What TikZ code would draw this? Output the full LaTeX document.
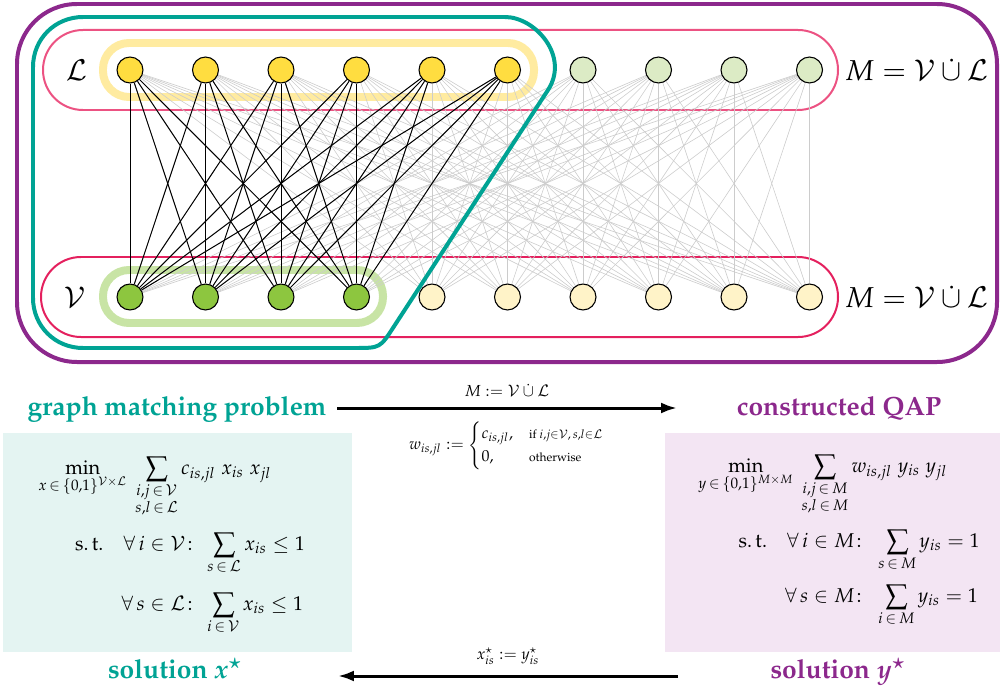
\documentclass[tikz,border=0pt]{standalone}
\usepackage[T1]{fontenc}
\usepackage{amsmath,amssymb}
\usepackage{mathpazo}
\usepackage{xcolor}
\usepackage{tikz}
\usetikzlibrary{positioning, arrows.meta, calc}

\definecolor{gmteal}{RGB}{0,163,148}
\definecolor{qappurple}{RGB}{140,40,140}
\definecolor{pinktop}{RGB}{236,82,130}
\definecolor{pinkbot}{RGB}{228,32,94}
\definecolor{lgold}{RGB}{255,221,64}
\definecolor{lgoldpale}{RGB}{255,243,200}
\definecolor{vgreen}{RGB}{141,198,63}
\definecolor{vgreenpale}{RGB}{220,235,197}
\definecolor{hlgold}{RGB}{255,235,160}
\definecolor{hlgreen}{RGB}{200,228,165}
\definecolor{gmbox}{RGB}{228,244,242}
\definecolor{qapbox}{RGB}{243,229,243}

\pgfdeclarelayer{frames}
\pgfdeclarelayer{edges}
\pgfsetlayers{frames,edges,main}

\newcommand{\dcup}{\mathbin{\dot{\cup}}}

\begin{document}
\begin{tikzpicture}[
    x=0.0176cm, y=-0.0176cm,
    vertex/.style={circle, draw, line width=0.55pt, minimum size=13pt, inner sep=0pt},
    gold/.style={vertex, fill=lgold},
    goldpale/.style={vertex, fill=lgoldpale},
    green/.style={vertex, fill=vgreen},
    greenpale/.style={vertex, fill=vgreenpale},
    faint/.style={gray!40, line width=0.3pt},
    strong/.style={black, line width=0.5pt},
    setlabel/.style={font=\Large},
    title/.style={font=\fontsize{13.2}{16}\selectfont\bfseries},
    mathtext/.style={inner sep=0pt},
    flow/.style={-{Latex[length=8pt, width=5.5pt]}, line width=1.5pt}
]
\useasboundingbox (0,0) rectangle (1000,697);

% Top row L (and M), bottom row V (and M)
\foreach \k in {0,...,5} \node[gold] (top_\k) at ({130+75.5*\k},70) {};
\foreach \k in {6,...,9} \node[greenpale] (top_\k) at ({130+75.5*\k},70) {};
\foreach \k in {0,...,3} \node[green] (bot_\k) at ({130+75.5*\k},297) {};
\foreach \k in {4,...,9} \node[goldpale] (bot_\k) at ({130+75.5*\k},297) {};

\node[setlabel] (lbl_L) at (77,70) {$\mathcal{L}$};
\node[setlabel] (lbl_V) at (75,297) {$\mathcal{V}$};
\node[setlabel] (lbl_Mtop) at (917,70) {$M = \mathcal{V} \dcup \mathcal{L}$};
\node[setlabel] (lbl_Mbot) at (917,297) {$M = \mathcal{V} \dcup \mathcal{L}$};

% Edges
\begin{pgfonlayer}{edges}
\foreach \a in {0,...,9}
  \foreach \b in {0,...,9}
    \draw[faint] (top_\a) -- (bot_\b);
\foreach \a in {0,...,5}
  \foreach \b in {0,...,3}
    \draw[strong] (top_\a) -- (bot_\b);
\end{pgfonlayer}

% Frames
\begin{pgfonlayer}{frames}
\draw[pinktop, line width=1pt, rounded corners=20pt] (43,30) rectangle (838,110);
\draw[pinkbot, line width=1pt, rounded corners=20pt] (41,257) rectangle (838,337);
\draw[hlgold, line width=4pt, rounded corners=13pt] (103,43) rectangle (534,97);
\draw[hlgreen, line width=4pt, rounded corners=13pt] (103,270) rectangle (383,323);
\end{pgfonlayer}

\draw[gmteal, line width=2pt]
  (83,17) -- (505,17) .. controls (535,17) and (570,56) .. (548,90)
  -- (393.6,327) .. controls (380,348) .. (355,348)
  -- (83,348) .. controls (55,348) and (33,326) .. (33,298)
  -- (33,67) .. controls (33,39) and (55,17) .. cycle;
\draw[qappurple, line width=2pt, rounded corners=30pt] (17,4) rectangle (997,362);

% Left Side: graph matching problem
\node[title, text=gmteal, anchor=base] (gm_title) at (177,415) {graph matching problem};
\fill[gmbox] (3,433) rectangle (352,652);
\node[mathtext, anchor=base west] (gm_obj) at (38,474)
  {$\displaystyle\min_{x\,\in\,\{0,1\}^{\mathcal{V}\times\mathcal{L}}}\ \sum_{\substack{i,j\,\in\,\mathcal{V}\\ s,l\,\in\,\mathcal{L}}} c_{is,jl}\; x_{is}\; x_{jl}$};
\node[mathtext, anchor=base east] (gm_c1_lhs) at (200,550) {$\text{s.\,t.}\quad \forall\, i \in \mathcal{V}\colon$};
\node[mathtext, anchor=base west] (gm_c1_sum) at (207,550) {$\displaystyle\sum_{s\,\in\,\mathcal{L}} x_{is} \le 1$};
\node[mathtext, anchor=base east] (gm_c2_lhs) at (200,610) {$\forall\, s \in \mathcal{L}\colon$};
\node[mathtext, anchor=base west] (gm_c2_sum) at (207,610) {$\displaystyle\sum_{i\,\in\,\mathcal{V}} x_{is} \le 1$};
\node[title, text=gmteal, anchor=base] (sol_x) at (175,678) {solution {\boldmath$x^\star$}};

% Right Side: constructed QAP
\node[title, text=qappurple, anchor=base] (qap_title) at (839,415) {constructed QAP};
\fill[qapbox] (665,433) rectangle (1000,652);
\node[mathtext, anchor=base west] (qap_obj) at (698,472)
  {$\displaystyle\min_{y\,\in\,\{0,1\}^{M\times M}}\ \sum_{\substack{i,j\,\in\,M\\ s,l\,\in\,M}} w_{is,jl}\; y_{is}\; y_{jl}$};
\node[mathtext, anchor=base east] (qap_c1_lhs) at (869,547) {$\text{s.\,t.}\quad \forall\, i \in M\colon$};
\node[mathtext, anchor=base west] (qap_c1_sum) at (878,547) {$\displaystyle\sum_{s\,\in\,M} y_{is} = 1$};
\node[mathtext, anchor=base east] (qap_c2_lhs) at (869,602) {$\forall\, s \in M\colon$};
\node[mathtext, anchor=base west] (qap_c2_sum) at (878,602) {$\displaystyle\sum_{i\,\in\,M} y_{is} = 1$};
\node[title, text=qappurple, anchor=base] (sol_y) at (838,678) {solution {\boldmath$y^\star$}};

% Arrows between the two problems
\coordinate (arr_to_qap_a) at (337,408);
\coordinate (arr_to_qap_b) at (677,408);
\coordinate (arr_to_gm_a) at (678,676);
\coordinate (arr_to_gm_b) at (338,676);

\draw[flow] (arr_to_qap_a) -- node[above, inner sep=5pt, font=\footnotesize] (lbl_M_def) {$M := \mathcal{V} \dcup \mathcal{L}$}
  node[below, inner sep=6pt, font=\footnotesize] (lbl_w_def)
  {$w_{is,jl} := \begin{cases} c_{is,jl}, & {\scriptstyle\text{if } i,j\in\mathcal{V},\, s,l\in\mathcal{L}}\\ 0, & {\scriptstyle\text{otherwise}} \end{cases}$}
  (arr_to_qap_b);
\draw[flow] (arr_to_gm_a) -- node[above, inner sep=5pt, font=\footnotesize] (lbl_x_def) {$x^\star_{is} := y^\star_{is}$} (arr_to_gm_b);

\end{tikzpicture}
\end{document}
